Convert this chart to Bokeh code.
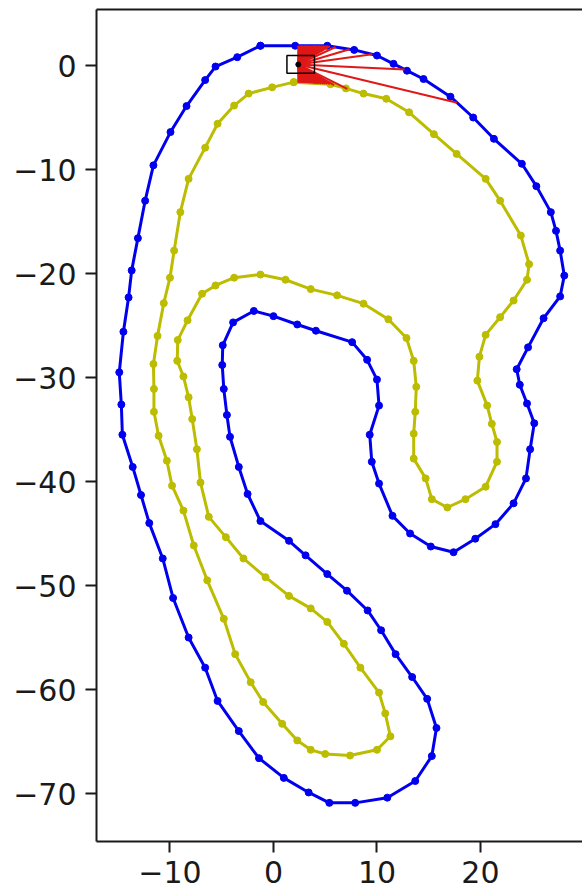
import numpy as np
from bokeh.plotting import figure
from bokeh.models import LinearAxis, FixedTicker, Range1d, CustomJSTickFormatter
from bokeh.embed import file_html
from bokeh.resources import INLINE

# ---- track boundaries (closed polylines) ----
outer_x = [-1.26, 2.1, 5.2, 7.8, 10.0, 11.6, 12.9, 14.5, 17.1, 19.3, 21.3, 24.0, 25.4, 26.8,
           27.3, 27.7, 28.1, 27.7, 26.1, 24.6, 23.5, 23.8, 24.5, 25.2, 24.8, 24.4, 23.2, 21.45,
           19.5, 17.4, 15.2, 13.2, 11.5, 10.2, 9.5, 9.3, 10.2, 10.0, 9.05, 7.6, 4.1, 2.3, 0.0,
           -1.9, -3.9, -4.9, -4.95, -4.8, -4.5, -4.2, -3.35, -2.5, -1.26, 1.5, 3.1, 5.2, 7.1,
           9.1, 10.4, 11.8, 13.4, 14.85, 15.75, 15.3, 13.7, 11.0, 7.9, 5.4, 3.4, 1.0, -1.4,
           -3.35, -5.4, -6.6, -8.2, -9.7, -10.7, -12.0, -12.8, -13.6, -14.6, -14.7, -14.9,
           -14.5, -14.0, -13.7, -13.1, -12.4, -11.6, -9.95, -8.4, -6.6, -5.6, -3.5, -1.26]
outer_y = [1.9, 1.9, 1.9, 1.5, 0.96, 0.16, -0.5, -1.3, -3.0, -5.0, -7.05, -9.45, -11.6, -14.1,
           -15.9, -17.8, -20.2, -22.2, -24.3, -27.1, -29.2, -30.7, -32.5, -34.4, -36.9, -39.7,
           -42.1, -44.1, -45.5, -46.8, -46.25, -45.0, -43.3, -40.2, -38.1, -35.5, -32.7, -30.2,
           -28.3, -26.6, -25.5, -24.9, -24.1, -23.6, -24.7, -26.9, -28.8, -31.1, -33.6, -35.7,
           -38.6, -41.2, -43.8, -45.7, -47.1, -48.9, -50.5, -52.4, -54.3, -56.6, -58.8, -60.9,
           -63.7, -66.4, -68.8, -70.4, -70.9, -70.9, -69.9, -68.5, -66.6, -64.0, -61.1, -57.9,
           -55.0, -51.2, -47.4, -44.0, -41.3, -38.6, -35.5, -32.6, -29.5, -25.6, -22.3, -19.7,
           -16.6, -13.0, -9.6, -6.4, -3.9, -1.4, -0.1, 0.8, 1.9]

inner_x = [1.96, 5.5, 7.0, 8.7, 10.9, 13.1, 15.5, 17.7, 20.5, 21.9, 23.9, 24.7, 24.5, 23.2,
           21.9, 20.5, 19.9, 19.7, 20.65, 21.1, 21.6, 21.6, 20.5, 18.55, 16.8, 15.3, 14.7,
           13.55, 13.55, 13.7, 13.8, 13.55, 12.85, 11.1, 8.7, 6.15, 3.6, 1.16, -1.26, -3.8,
           -5.6, -6.9, -8.3, -9.25, -9.3, -8.7, -8.2, -7.85, -7.4, -7.05, -6.25, -4.6, -2.9,
           -0.77, 1.5, 3.6, 5.2, 6.8, 8.4, 10.2, 10.8, 11.3, 10.0, 7.4, 5.0, 3.6, 2.3, 0.84,
           -1.0, -2.2, -3.7, -4.8, -6.4, -7.7, -8.7, -9.8, -10.3, -11.1, -11.55, -11.55, -11.6,
           -11.2, -10.6, -10.0, -9.6, -9.0, -8.2, -6.6, -5.4, -3.8, -2.4, -0.13, 1.96]
inner_y = [-1.6, -1.8, -2.2, -2.7, -3.2, -4.5, -6.6, -8.5, -10.9, -13.0, -16.35, -19.1, -20.6,
           -22.6, -24.2, -25.9, -28.0, -30.3, -32.7, -34.45, -36.2, -38.1, -40.5, -41.7, -42.5,
           -41.7, -39.7, -37.8, -35.4, -33.3, -30.9, -28.4, -26.2, -24.4, -22.9, -22.1, -21.5,
           -20.6, -20.1, -20.4, -21.15, -21.95, -24.5, -26.4, -28.4, -29.9, -31.9, -34.0, -36.9,
           -40.1, -43.4, -45.35, -47.4, -49.2, -51.0, -52.2, -53.5, -55.6, -57.9, -60.3, -62.3,
           -64.5, -65.8, -66.35, -66.2, -65.8, -64.9, -63.3, -61.2, -59.3, -56.6, -53.2, -49.5,
           -46.15, -42.8, -40.4, -38.0, -35.6, -33.3, -31.1, -28.7, -26.0, -22.85, -20.4, -17.8,
           -14.1, -10.9, -7.9, -5.6, -3.85, -2.7, -2.1, -1.6]

# ---- car and its range sensor ----
car_x = [2.4]
car_y = [0.1]
car_box_x = [2.63]
car_box_y = [0.11]
car_box_w = 2.66
car_box_h = 1.7
ray_angles_deg = [90, 88, 86, 84, 82, 80, 78, 76, 74, 72, 70, 68, 66, 64, 62, 60, 58, 56, 54,
                  52, 50, 48, 46, 44, 42, 40, 38, 36, 34, 32, 30, 25, 16.5, 7.75, -2.7, -13.5,
                  -26.3, -30, -32, -34, -36, -38, -40, -42, -44, -46, -48, -50, -52, -54, -56,
                  -58, -60, -62, -64, -66, -68, -70, -72, -74, -76, -78, -80, -82, -84, -86,
                  -88, -90]

x_ticks = [-10, 0, 10, 20]
y_ticks = [0, -10, -20, -30, -40, -50, -60, -70]


def cast_ray(ox, oy, ang_deg, polylines):
    a = np.radians(ang_deg)
    d0, d1 = np.cos(a), np.sin(a)
    best = np.inf
    for xs, ys in polylines:
        for i in range(len(xs) - 1):
            px, py = xs[i], ys[i]
            e0, e1 = xs[i + 1] - px, ys[i + 1] - py
            den = d0 * e1 - d1 * e0
            if abs(den) < 1e-12:
                continue
            w0, w1 = px - ox, py - oy
            t = (w0 * e1 - w1 * e0) / den
            s = (w0 * d1 - w1 * d0) / den
            if t > 1e-9 and 0.0 <= s <= 1.0 and t < best:
                best = t
    return ox + best * d0, oy + best * d1


polys = [(outer_x, outer_y), (inner_x, inner_y)]
ray_xs, ray_ys = [], []
for ang in ray_angles_deg:
    ex, ey = cast_ray(car_x[0], car_y[0], ang, polys)
    ray_xs.append([car_x[0], ex])
    ray_ys.append([car_y[0], ey])

FONT = "DejaVu Sans"

p = figure(width=582, height=891,
           x_range=Range1d(-17.1, 29.86), y_range=Range1d(-74.615, 5.385),
           output_backend="svg", toolbar_location=None,
           min_border_left=96, min_border_right=0, min_border_top=9, min_border_bottom=50,
           x_axis_location=None, y_axis_location=None)
p.outline_line_color = None
p.background_fill_color = "white"
p.border_fill_color = "white"
p.xgrid.visible = False
p.ygrid.visible = False

fmt = CustomJSTickFormatter(code="return tick < 0 ? '\u2212' + Math.abs(tick) : String(tick);")


def style_axis(ax, ticks):
    ax.ticker = FixedTicker(ticks=ticks)
    ax.formatter = fmt
    ax.axis_line_width = 2
    ax.axis_line_color = "#1a1a1a"
    ax.major_tick_line_width = 2
    ax.major_tick_line_color = "#1a1a1a"
    ax.major_tick_out = 11
    ax.major_tick_in = 0
    ax.minor_tick_out = 0
    ax.minor_tick_in = 0
    ax.major_label_text_font = FONT
    ax.major_label_text_font_size = "30px"
    ax.major_label_text_color = "#1a1a1a"


xa = LinearAxis()
style_axis(xa, x_ticks)
xa.major_label_standoff = 8
p.add_layout(xa, "below")

ya = LinearAxis()
style_axis(ya, y_ticks)
ya.major_label_standoff = 9
p.add_layout(ya, "left")

top = LinearAxis(ticker=FixedTicker(ticks=[]), major_tick_out=0, major_tick_in=0,
                 minor_tick_out=0, minor_tick_in=0, major_label_text_font_size="0px",
                 major_label_standoff=0, axis_line_width=2, axis_line_color="#1a1a1a")
p.add_layout(top, "above")

BLUE = "#0000ee"
YEL = "#bcbc00"

p.line(outer_x, outer_y, line_color=BLUE, line_width=3)
p.scatter(outer_x, outer_y, size=7, fill_color=BLUE, line_color=BLUE)
p.line(inner_x, inner_y, line_color=YEL, line_width=3)
p.scatter(inner_x, inner_y, size=7, fill_color=YEL, line_color=YEL)

p.multi_line(ray_xs, ray_ys, line_color="#e01818", line_width=2)

p.rect(car_box_x, car_box_y, width=car_box_w, height=car_box_h,
       fill_color=None, line_color="black", line_width=1.5)
p.scatter(car_x, car_y, size=5, fill_color="black", line_color="black")

open("out.html", "w").write(file_html(p, INLINE))
